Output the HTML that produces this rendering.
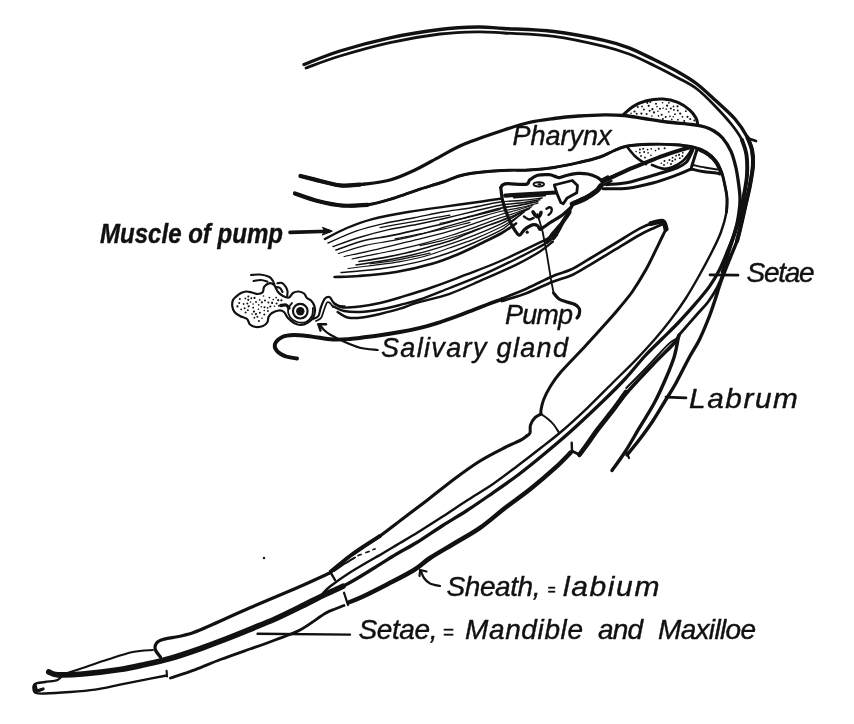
<!DOCTYPE html>
<html><head><meta charset="utf-8"><title>Mouthparts diagram</title>
<style>
html,body{margin:0;padding:0;background:#fff;}
body{width:854px;height:724px;overflow:hidden;}
svg{display:block;}
text{font-family:"Liberation Sans",sans-serif;font-style:italic;fill:#111;stroke:#111;stroke-width:0.4px;}
svg{will-change:transform;}
</style></head><body>
<svg width="854" height="724" viewBox="0 0 854 724">
<rect width="854" height="724" fill="#fff"/>
<g stroke="#111" stroke-linecap="round" stroke-linejoin="round" fill="none">
<path d="M304 64.5C310 62.2 325.7 55.5 340 51C354.3 46.5 373.3 41.4 390 37.8C406.7 34.2 425.3 31.3 440 29.5C454.7 27.7 467.3 27.2 478 27C488.7 26.8 491.3 27.8 504 28.5C516.7 29.2 537.3 29.5 554 31.5C570.7 33.5 591.5 37.6 604 40.3C616.5 43 620.7 44.6 629 47.8C637.3 51 645.7 55.5 654 59.6C662.3 63.7 671.8 68.4 679 72.5C686.2 76.6 691 79.4 697 84C703 88.6 708.7 94.2 715 100C721.3 105.8 729.6 112.8 735 119C740.4 125.2 744.7 132.3 747.5 137.5C750.3 142.7 751.1 145.4 752 150C752.9 154.6 753.3 159.2 753 165C752.7 170.8 751.2 178.3 750 185C748.8 191.7 747 198.3 745.5 205C744 211.7 742.4 219 741 225C739.6 231 738.8 235.7 737 241C735.2 246.3 733.1 250.5 730.5 257C727.9 263.5 724.1 272.8 721.5 280C718.9 287.2 717 294 715 300C713 306 712.1 309.4 709.5 316C706.9 322.6 702.8 332.7 699.5 339.5C696.2 346.3 693.4 349.8 689.5 357C685.6 364.2 679.9 375.9 676 383C672.1 390.1 669.9 393.2 666 399.5C662.1 405.8 657.2 414.3 652.8 421C648.4 427.7 643.8 433.9 639.5 439.6C635.2 445.3 629.1 452.4 627 455" stroke-width="3.4" fill="none"/>
<path d="M747.5 137.5C748.2 139.6 751.1 145.4 752 150C752.9 154.6 753.3 159.2 753 165C752.7 170.8 751.2 178.3 750 185C748.8 191.7 747 198.3 745.5 205C744 211.7 742.4 219 741 225C739.6 231 737.7 238.3 737 241" stroke-width="4.1" fill="none"/>
<path d="M306 68C311.7 66 326 60.2 340 56C354 51.8 373.3 46.3 390 42.6C406.7 38.9 425.3 35.8 440 34C454.7 32.2 467.3 32 478 31.8C488.7 31.6 491.3 32.2 504 33C516.7 33.8 537.3 34.1 554 36.3C570.7 38.5 591.5 43.3 604 46.3C616.5 49.2 620.7 50.8 629 54C637.3 57.2 645.7 61.4 654 65.5C662.3 69.6 671.8 74.5 679 78.4C686.2 82.3 691 84.4 697 89C703 93.6 709.2 100 715 106C720.8 112 727.5 119.3 732 125C736.5 130.7 739.6 135 742 140C744.4 145 745.7 149.2 746.5 155C747.3 160.8 747.4 168.3 747 175C746.6 181.7 745.2 188.3 744 195C742.8 201.7 741.7 208.3 740 215C738.3 221.7 735.8 229.2 734 235C732.2 240.8 730.8 243.8 729 250C727.2 256.2 725.4 265.8 723.5 272C721.6 278.2 720.1 282 717.5 287C714.9 292 711.5 297.3 708 302C704.5 306.7 701.3 309.5 696.5 315C691.7 320.5 681.9 331.7 679 335" stroke-width="2.8" fill="none"/>
<path d="M742 140C742.8 142.5 745.7 149.2 746.5 155C747.3 160.8 747.4 168.3 747 175C746.6 181.7 745.2 188.3 744 195C742.8 201.7 741.7 208.3 740 215C738.3 221.7 735.8 229.2 734 235C732.2 240.8 730.9 243.8 729 250C727.1 256.2 723.8 268.3 722.7 272" stroke-width="3.9" fill="none"/>
<path d="M747 138L756 141" stroke-width="2.7" fill="none"/>
<path d="M300.5 176C302.9 176.6 308.4 178 315 179.6C321.6 181.2 331.7 184.7 340 185.4C348.3 186.1 356.7 184.9 365 184C373.3 183.1 381.7 182.3 390 180C398.3 177.7 406.7 173.9 415 170C423.3 166.1 431.7 161 440 156.6C448.3 152.2 454.3 148.2 465 143.8C475.7 139.4 493.3 133.6 504 130C514.7 126.5 520.7 124.4 529 122.5C537.3 120.6 545.7 119.6 554 118.5C562.3 117.4 570.7 116.6 579 116C587.3 115.4 596.5 114.9 604 114.8C611.5 114.7 617.3 114.9 624 115.5C630.7 116.1 636.8 117.4 644 118.5C651.2 119.6 659 121 667 122C675 123 685.7 123.7 692 124.5C698.3 125.3 701.3 125.9 705 127C708.7 128.1 711.1 129.2 714 131C716.9 132.8 719.8 134.6 722.6 138C725.4 141.4 728.8 146.3 731 151.3C733.2 156.3 734.8 162.7 736 168C737.2 173.3 737.8 178 738.5 183C739.2 188 739.9 193.2 740 198C740.1 202.8 739.8 206.3 739 212C738.2 217.7 736.8 225.7 735 232C733.2 238.3 730.6 243.7 728 250C725.4 256.3 722.5 263.9 719.4 270C716.3 276.1 713.6 280.6 709.5 286.4C705.4 292.2 699.9 298.6 694.6 304.7C689.4 310.8 683.5 317.2 678 323C672.5 328.8 666.9 334 661.4 339.5C655.9 345 651 349.4 644.9 356C638.8 362.6 632.5 371 625 379C617.5 387 609.2 395.2 600 404C590.8 412.8 579.5 423.5 570 432C560.5 440.5 551.7 447.8 543 455C534.3 462.2 526.3 468.7 518 475C509.7 481.3 501.4 487 493 492.8C484.6 498.6 476.1 504.6 467.7 510C459.3 515.5 451 520.2 442.7 525.5C434.4 530.8 424.7 537.6 417.6 542C410.5 546.4 404.2 549.6 400 552C395.8 554.4 396.7 553.9 392.5 556.5C388.3 559.1 382.1 563.2 375 567.5C367.9 571.8 358.3 578 350 582.5C341.7 587 329.2 592.5 325 594.5" stroke-width="3.3" fill="none"/>
<path d="M300.5 176C302.9 176.6 308.4 178 315 179.6C321.6 181.2 332.5 184.6 340 185.4C347.5 186.2 356.7 184.7 360 184.6" stroke-width="4.2" fill="none"/>
<path d="M343 586.2C341.7 586.8 338 588.6 335 590C332 591.4 330.8 591.7 325 594.5C319.2 597.3 308.3 602.9 300 607C291.7 611.1 283.3 615.3 275 619C266.7 622.7 258.3 625.9 250 629.3C241.7 632.7 233.3 636.1 225 639.3C216.7 642.5 209.2 645.5 200 648.7C190.8 651.9 179.2 655.9 170 658.5C160.8 661.1 153.3 662.7 145 664.5C136.7 666.3 130.4 667.9 120 669.5C109.6 671.1 93 673.1 82.6 674C72.2 674.9 63.2 675.1 57.6 674.8C52 674.5 50.3 672.5 48.8 672" stroke-width="5.7" fill="none"/>
<path d="M295 193.5C298.8 194.8 309.7 199 317.6 201C325.6 203 334.4 205 342.7 205.6C351 206.2 359.3 206 367.7 204.8C376.1 203.6 384.4 201 392.8 198.5C401.2 196 409.4 192.6 417.8 189.8C426.2 187.1 435.1 184.6 443 182C450.9 179.4 455.2 176.4 465 174.5C474.8 172.6 491.3 171.2 502 170.5C512.7 169.8 520.3 170.5 529 170C537.7 169.5 545.7 168.8 554 167.5C562.3 166.2 571.3 164.2 579 162.5C586.7 160.8 594.3 158.9 600 157C605.7 155.1 608.9 152.8 613.3 151C617.7 149.2 620.4 147.4 626.5 146.3C632.6 145.2 641.7 144.6 649.7 144.3C657.7 144 667.4 144.2 674.6 144.7C681.8 145.1 687.6 145.8 692.8 147C698 148.2 702.1 149.7 706 152C709.9 154.3 713.4 157.5 716 161C718.6 164.5 720.3 168.6 721.8 172.8C723.3 177 724.1 181.8 725 186C725.9 190.2 726.8 193.7 727 198C727.2 202.3 727.5 206.3 726.5 212C725.5 217.7 723.3 225.7 721 232C718.7 238.3 716.4 242.8 712.8 250C709.2 257.2 704 267 699.5 275C695 283 690.8 290.5 686 298C681.2 305.5 675.7 313.2 670.5 320C665.3 326.8 660.8 332.4 655 339C649.2 345.6 643 352.5 635.9 359.8C628.8 367.1 620.6 375 612.5 383C604.4 391 595.9 399.8 587.5 407.8C579.1 415.8 569.8 424.3 562 431C554.2 437.7 548.3 442.1 541 447.8C533.7 453.6 526 459.5 518 465.5C510 471.5 501.4 478.2 493 484C484.6 489.8 476.1 494.6 467.7 500C459.3 505.4 451 511.2 442.7 516.6C434.4 522 424.7 528.1 417.6 532.5C410.5 536.9 404.2 540.5 400 543C395.8 545.5 395.8 545.5 392.5 547.5C389.2 549.5 382.9 553.3 380 555C377.1 556.7 380.4 554.6 375.4 557.5C370.4 560.4 357.6 567.7 350 572.5C342.4 577.3 334.5 583 330 586.5C325.5 590 324 592.3 322.8 593.5" stroke-width="2.4" fill="none"/>
<path d="M295 193.5C298.8 194.8 309.7 199 317.6 201C325.6 203 334.4 205 342.7 205.6C351 206.2 359.3 206 367.7 204.8C376.1 203.6 384.4 201 392.8 198.5C401.2 196 409.4 192.6 417.8 189.8C426.2 187.1 435.1 184.6 443 182C450.9 179.4 455.2 176.4 465 174.5C474.8 172.6 491.3 171.2 502 170.5C512.7 169.8 520.3 170.5 529 170C537.7 169.5 545.7 168.8 554 167.5C562.3 166.2 571.3 164.2 579 162.5C586.7 160.8 594.3 158.9 600 157C605.7 155.1 608.9 152.8 613.3 151C617.7 149.2 620.4 147.4 626.5 146.3C632.6 145.2 641.7 144.6 649.7 144.3C657.7 144 667.4 144.2 674.6 144.7C681.8 145.1 687.6 145.8 692.8 147C698 148.2 702.1 149.7 706 152C709.9 154.3 713.4 157.5 716 161C718.6 164.5 720.3 168.6 721.8 172.8C723.3 177 724.1 181.8 725 186C725.9 190.2 726.8 193.7 727 198C727.2 202.3 726.6 209.7 726.5 212" stroke-width="2.9" fill="none"/>
<path d="M295 193.5C298.8 194.8 309.7 199 317.6 201C325.6 203 334.4 205 342.7 205.6C351 206.2 363.5 204.9 367.7 204.8" stroke-width="4.2" fill="none"/>
<path d="M623.2 114.9C624.8 113.5 629.1 108.9 633 106.6C636.9 104.2 641.4 102.1 646.4 100.8C651.4 99.5 657.8 98.7 663 99C668.2 99.3 673.5 100.6 677.9 102.4C682.3 104.2 686.5 107.3 689.5 109.9C692.5 112.5 694.6 115.6 696 118C697.4 120.4 697.4 123.4 697.7 124.5" stroke-width="3" fill="none"/>
<circle cx="647.3" cy="102.8" r="1.1" fill="#111" stroke="none"/>
<circle cx="663.1" cy="108.3" r="0.8" fill="#111" stroke="none"/>
<circle cx="666.2" cy="109.1" r="0.8" fill="#111" stroke="none"/>
<circle cx="636.7" cy="113.8" r="1" fill="#111" stroke="none"/>
<circle cx="670.8" cy="108.5" r="1.1" fill="#111" stroke="none"/>
<circle cx="673.9" cy="109.9" r="0.9" fill="#111" stroke="none"/>
<circle cx="646.6" cy="113.9" r="1" fill="#111" stroke="none"/>
<circle cx="657" cy="106.6" r="0.8" fill="#111" stroke="none"/>
<circle cx="682.4" cy="116.8" r="0.9" fill="#111" stroke="none"/>
<circle cx="641.4" cy="113.6" r="1.1" fill="#111" stroke="none"/>
<circle cx="677.5" cy="106.3" r="1.1" fill="#111" stroke="none"/>
<circle cx="634.5" cy="111.5" r="1.1" fill="#111" stroke="none"/>
<circle cx="680.2" cy="113.6" r="1.1" fill="#111" stroke="none"/>
<circle cx="675" cy="114.2" r="0.9" fill="#111" stroke="none"/>
<circle cx="658.5" cy="115.9" r="0.8" fill="#111" stroke="none"/>
<circle cx="651.9" cy="116.1" r="0.8" fill="#111" stroke="none"/>
<circle cx="684.2" cy="121" r="1" fill="#111" stroke="none"/>
<circle cx="643.9" cy="109.6" r="1" fill="#111" stroke="none"/>
<circle cx="667.1" cy="105.7" r="1.1" fill="#111" stroke="none"/>
<circle cx="661.6" cy="114.7" r="1" fill="#111" stroke="none"/>
<circle cx="690.2" cy="118.9" r="1" fill="#111" stroke="none"/>
<circle cx="652.4" cy="109.2" r="1.1" fill="#111" stroke="none"/>
<circle cx="668.9" cy="102.8" r="0.9" fill="#111" stroke="none"/>
<circle cx="650.3" cy="102.1" r="1" fill="#111" stroke="none"/>
<circle cx="657.9" cy="111.3" r="0.8" fill="#111" stroke="none"/>
<circle cx="648.7" cy="105.8" r="1.1" fill="#111" stroke="none"/>
<circle cx="662.6" cy="102.7" r="0.8" fill="#111" stroke="none"/>
<circle cx="687.5" cy="116.8" r="1.1" fill="#111" stroke="none"/>
<circle cx="662.9" cy="118.9" r="1" fill="#111" stroke="none"/>
<circle cx="685.8" cy="111.2" r="0.9" fill="#111" stroke="none"/>
<circle cx="671.8" cy="119.4" r="0.8" fill="#111" stroke="none"/>
<circle cx="642" cy="106.5" r="0.9" fill="#111" stroke="none"/>
<circle cx="649.6" cy="110.7" r="1" fill="#111" stroke="none"/>
<circle cx="656" cy="103.7" r="1" fill="#111" stroke="none"/>
<circle cx="631.1" cy="113.3" r="0.8" fill="#111" stroke="none"/>
<circle cx="668.8" cy="111.9" r="0.8" fill="#111" stroke="none"/>
<circle cx="637.8" cy="107.1" r="1" fill="#111" stroke="none"/>
<circle cx="665.7" cy="116.9" r="1" fill="#111" stroke="none"/>
<circle cx="677.9" cy="119.7" r="0.9" fill="#111" stroke="none"/>
<circle cx="669.9" cy="116.4" r="0.8" fill="#111" stroke="none"/>
<circle cx="660" cy="108.8" r="1" fill="#111" stroke="none"/>
<circle cx="673.3" cy="116.7" r="0.8" fill="#111" stroke="none"/>
<circle cx="673.5" cy="106.4" r="0.9" fill="#111" stroke="none"/>
<circle cx="677.8" cy="110.5" r="0.9" fill="#111" stroke="none"/>
<circle cx="654" cy="112.4" r="1.1" fill="#111" stroke="none"/>
<circle cx="694.3" cy="120.6" r="1" fill="#111" stroke="none"/>
<path d="M628 148C629.1 149.3 632.6 153.8 634.8 156C637 158.2 639.5 159.7 641.4 161C643.3 162.3 645.2 163.5 646 164" stroke-width="2.7" fill="none"/>
<path d="M652 165C653.8 165.6 659.5 168.4 663 168.7C666.5 169 669.6 168.3 672.9 167C676.2 165.7 680 163.3 682.8 161C685.6 158.7 688 155.2 689.5 153C691 150.8 691.6 148.8 692 148" stroke-width="2.7" fill="none"/>
<circle cx="639.9" cy="149.5" r="1" fill="#111" stroke="none"/>
<circle cx="650.9" cy="155.4" r="0.8" fill="#111" stroke="none"/>
<circle cx="647.6" cy="149.6" r="0.9" fill="#111" stroke="none"/>
<circle cx="644.2" cy="151.9" r="1" fill="#111" stroke="none"/>
<circle cx="658.7" cy="148.8" r="1" fill="#111" stroke="none"/>
<circle cx="651.2" cy="148.9" r="0.8" fill="#111" stroke="none"/>
<circle cx="636.1" cy="151.5" r="0.8" fill="#111" stroke="none"/>
<circle cx="645" cy="157.5" r="0.9" fill="#111" stroke="none"/>
<circle cx="641" cy="156" r="0.9" fill="#111" stroke="none"/>
<circle cx="639.8" cy="152.7" r="0.9" fill="#111" stroke="none"/>
<circle cx="648.1" cy="152.9" r="0.8" fill="#111" stroke="none"/>
<circle cx="655.5" cy="150.6" r="0.8" fill="#111" stroke="none"/>
<circle cx="643.1" cy="148.8" r="1" fill="#111" stroke="none"/>
<circle cx="664.6" cy="148.2" r="1" fill="#111" stroke="none"/>
<circle cx="682.8" cy="152.8" r="0.9" fill="#111" stroke="none"/>
<circle cx="675.2" cy="159.5" r="0.9" fill="#111" stroke="none"/>
<circle cx="676.1" cy="155.7" r="0.9" fill="#111" stroke="none"/>
<circle cx="669.4" cy="160" r="1" fill="#111" stroke="none"/>
<circle cx="661.4" cy="163.2" r="0.8" fill="#111" stroke="none"/>
<circle cx="667.5" cy="162.9" r="0.7" fill="#111" stroke="none"/>
<circle cx="664" cy="165" r="0.9" fill="#111" stroke="none"/>
<circle cx="679.8" cy="158.2" r="0.9" fill="#111" stroke="none"/>
<circle cx="664.5" cy="161" r="1" fill="#111" stroke="none"/>
<circle cx="671" cy="164" r="1" fill="#111" stroke="none"/>
<circle cx="672.4" cy="160.9" r="1" fill="#111" stroke="none"/>
<circle cx="679" cy="154.8" r="1.1" fill="#111" stroke="none"/>
<circle cx="672.6" cy="157.7" r="0.9" fill="#111" stroke="none"/>
<circle cx="682.4" cy="156" r="0.9" fill="#111" stroke="none"/>
<path d="M603 182C604.1 181.4 605.1 180.6 609.7 178.4C614.3 176.2 624 171.5 630.5 168.7C637 165.8 643.2 163.5 648.7 161.3C654.2 159.1 658.2 157.5 663.6 155.6C669 153.7 676.8 151.2 681 149.9C685.2 148.6 687.7 147.9 689 147.5" stroke-width="4.1" fill="none"/>
<path d="M601 180L608 176.4" stroke-width="2.4" fill="none"/>
<path d="M602.6 185.5L611.4 181" stroke-width="2.4" fill="none"/>
<path d="M603 188.8C607.2 188.7 619.7 189.2 628 188.2C636.3 187.2 644.5 185.2 652.8 183C661.1 180.8 671.3 177 677.7 174.7C684.1 172.4 688.8 169.9 691 169" stroke-width="3" fill="none"/>
<path d="M606.4 184.7C610 184.3 620.3 184 628 182.5C635.7 181 644.5 178 652.8 175.5C661.1 173 672.2 169.7 677.7 167.5C683.2 165.3 684 164.4 686 162.5C688 160.6 688.8 158.2 690 156C691.2 153.8 692.5 150.6 693 149.5" stroke-width="3" fill="none"/>
<path d="M691 169C693 169.4 698.5 170.8 702.7 171.5C706.9 172.2 713.1 172.6 716 173C718.9 173.4 719.3 173.8 720 174" stroke-width="3" fill="none"/>
<path d="M693 165C695 165.4 701 166.8 705 167.5C709 168.2 715 169.2 717 169.5" stroke-width="2" fill="none"/>
<path d="M697 149.5L691.5 167" stroke-width="3" fill="none"/>
<path d="M697.5 149C699.2 149.9 704.6 152.3 707.7 154.6C710.8 156.9 713.9 159.9 716 162.9C718.1 165.9 719.8 170.9 720.5 172.5" stroke-width="3" fill="none"/>
<path d="M500.8 187.6C501.1 187.2 501.5 185.7 502.7 185C503.9 184.3 504 183.8 507.9 183.7C511.8 183.6 522.4 185 526 184.3C529.6 183.7 527.9 181.3 529.8 179.8C531.7 178.3 534.3 176.2 537.5 175.3C540.7 174.5 546 174.5 549 174.7C552 174.9 553.9 176.1 555.6 176.6C557.3 177.1 557.5 177.9 559.4 177.7C561.3 177.5 564.2 176 567.2 175.3C570.2 174.6 574.1 173.6 577.5 173.4C580.9 173.2 584.6 173.4 587.8 174C591 174.6 594.4 175.9 596.8 177.2C599.2 178.5 601.4 180.2 602 181.8C602.6 183.4 602.2 185 600.7 186.9C599.2 188.8 596 191.5 593 193.4C590 195.3 585.6 197 582.6 198.5C579.6 200 576.8 200.9 574.9 202.4C573 203.9 572.3 205.2 571 207.5C569.7 209.8 569.1 213.5 567.2 216.5C565.3 219.5 562 222.6 559.4 225.6C556.8 228.6 553.9 231.8 551.7 234.6C549.6 237.4 547.4 241 546.5 242.3" stroke-width="3.2" fill="none"/>
<path d="M500.8 187.6C501.1 189.8 501.5 196.2 502.7 201C503.9 205.8 506 211.8 507.9 216.5C509.8 221.2 512.4 226.3 514.3 229.4C516.2 232.5 517.8 235.2 519.5 235.2C521.2 235.2 522.5 231.1 524.6 229.4C526.8 227.7 530.2 225.5 532.4 224.9C534.5 224.3 536.2 224.8 537.5 225.6C538.8 226.3 538.9 229.2 540 229.4C541.1 229.6 542 228.2 544 226.9C546 225.6 548.7 223.6 551.7 221.7C554.7 219.8 558.8 217.7 562 215.3C565.2 212.9 569.5 208.8 571 207.5" stroke-width="3.2" fill="none"/>
<path d="M600.5 186C599.9 186.8 599.3 188.7 596.8 190.8C594.2 192.9 589.3 196.3 585.2 198.5C581.1 200.7 574.4 203.1 572.3 204" stroke-width="5.1" fill="none"/>
<path d="M569.5 212C568.4 213.7 564.7 218.8 562.8 222C560.9 225.2 559.4 228.3 557.9 231C556.4 233.7 554.2 236.8 553.5 238" stroke-width="4.2" fill="none"/>
<path d="M554.3 185L572.3 180.5L577.5 185.6L576.8 192.7L567.2 197.9L563.3 203.7L560.7 202.4L556.9 193.4L554.3 185" stroke-width="2.8" fill="none"/>
<ellipse cx="538.8" cy="184.3" rx="5.2" ry="2.1" stroke-width="2" fill="none"/>
<ellipse cx="539.5" cy="184.3" rx="2" ry="1.1" fill="#111" stroke="none"/>
<path d="M505.3 195.6L530 194L555.6 192.5" stroke-width="4.2" fill="none"/>
<path d="M514 197.3L545 195.2" stroke-width="2.4" fill="none"/>
<path d="M546.5 208.8C547 208.5 548.6 207.2 549.5 207.2C550.4 207.2 551.5 208.1 551.7 209C552 209.9 551.5 211.5 551 212.5C550.5 213.5 548.9 214.6 548.5 215" stroke-width="2.4" fill="none"/>
<path d="M533 212C533.5 212.7 534.9 215.3 536 216C537.1 216.7 538.7 216.6 539.5 216C540.3 215.4 540.8 213.1 541 212.5" stroke-width="3.6" fill="none"/>
<path d="M524 216.5C524.8 217 527.4 219.2 529 219.5C530.6 219.8 532.8 218.2 533.5 218" stroke-width="2.4" fill="none"/>
<circle cx="527.2" cy="232.2" r="1.6" fill="#111" stroke="none"/>
<path d="M601 180C602.3 179.6 605.8 178.7 609 177.5C612.2 176.3 618.2 173.8 620 173" stroke-width="2.4" fill="none"/>
<path d="M537.5 214L542.7 232L547 255L551 279.6L553.6 293" stroke-width="1.8" fill="none"/>
<path d="M553.6 293C554.5 294 556.8 297.5 559 299C561.2 300.5 564.3 301.1 567 302C569.7 302.9 572.9 303.3 575 304.5C577.1 305.7 578.8 307.2 579.5 309C580.2 310.8 579.4 313.5 579 315C578.6 316.5 577.3 317.5 577 318" stroke-width="3.2" fill="none"/>
<path d="M552.9 241.5C550.8 243.2 546.1 247.6 540 251.5C533.9 255.4 525.5 260.1 516 264.8C506.5 269.5 493.9 274.9 482.8 279.7C471.8 284.5 460.7 289.9 449.7 293.8C438.7 297.7 424.9 300.4 416.6 302.9C408.3 305.4 406.1 306.8 400 308.7C393.9 310.6 386.3 312.5 380 314C373.7 315.5 367.4 316.9 362 317.5C356.6 318.1 351.8 318.4 347.7 317.5C343.6 316.6 339.3 312.9 337.6 312" stroke-width="2.4" fill="none"/>
<path d="M557 235C555.5 236.2 550.8 240.1 548 242C545.2 243.9 545.3 243.8 540 246.6C534.7 249.4 525.5 254.3 516 259C506.5 263.7 493.9 269.9 482.8 274.7C471.8 279.5 460.2 283.9 449.7 288C439.2 292.1 428.3 296.7 420 299.5C411.7 302.3 406.7 303.3 400 305C393.3 306.7 386.7 308.3 380 309.5C373.3 310.7 366 311.8 360 312C354 312.2 348.4 311.9 344 311C339.6 310.1 335.2 307.2 333.5 306.5" stroke-width="2.4" fill="none"/>
<path d="M560 228C558.5 229.4 554.3 234.1 551 236.5C547.7 238.9 548.6 238.2 540 242.4C531.4 246.6 511.7 256.1 499.4 261.5C487.1 266.9 477.1 270.4 466 274.7C454.9 278.9 444 283.2 433 287C422 290.8 408.8 294.8 400 297.5C391.2 300.2 386.7 301.5 380 303C373.3 304.5 366.2 305.8 360 306.5C353.8 307.2 347 308 342.7 307.5C338.4 307 335.4 304.2 334 303.5" stroke-width="2.4" fill="none"/>
<path d="M324.8 239C328.5 237.2 339.1 231.3 346.9 228C354.7 224.7 361.3 222 371.5 219.3C381.7 216.6 395.8 214.1 408 212C420.2 209.9 432.7 208.3 445 206.6C457.3 204.8 472.5 202.8 482 201.5C491.5 200.2 498.5 199 501.8 198.5" stroke-width="2.4" fill="none"/>
<path d="M334.6 277C338.7 276.8 348.8 276.8 359 276C369.2 275.2 383.7 274.1 396 272C408.3 269.9 422.8 266.4 433 263.5C443.2 260.6 449.3 257.9 457.5 254.5C465.7 251.1 474.6 246.6 482 243C489.4 239.4 496.1 236.2 501.8 233C507.5 229.8 513.6 225.1 516 223.5" stroke-width="2.7" fill="none"/>
<path d="M328 243C332.8 241 347.1 234.2 356.7 230.9C366.2 227.6 375.8 225.4 385.3 223.2C394.9 221.1 404.4 219.7 414 217.8C423.6 216 433.1 213.7 442.7 212C452.2 210.3 461.8 209.4 471.3 207.7C480.9 206 491.7 203.2 500 202C508.3 200.8 514.1 201.2 521.1 200.5C528.1 199.8 538.7 198.4 542.2 198" stroke-width="1.4" fill="none"/>
<path d="M333 246.5C337.6 244.9 351.6 239.8 360.8 237C370.1 234.2 379.4 231.7 388.7 229.6C397.9 227.5 407.2 226.3 416.5 224.5C425.8 222.6 435.1 220.6 444.3 218.5C453.6 216.3 462.9 213.9 472.2 211.7C481.4 209.4 492 206.6 500 205.2C508 203.7 513.3 203.9 520 203C526.6 202.1 536.6 200.3 540 199.8" stroke-width="1.4" fill="none"/>
<path d="M336 250C340.6 248.5 354.2 243.1 363.3 240.7C372.4 238.4 381.6 237.6 390.7 235.7C399.8 233.9 408.9 231.7 418 229.6C427.1 227.5 436.2 225.5 445.3 223.2C454.4 220.9 463.6 218.1 472.7 215.7C481.8 213.2 492.3 210.1 500 208.4C507.7 206.6 512.6 206.6 518.9 205.4C525.2 204.3 534.6 202.1 537.8 201.5" stroke-width="1.7" fill="none"/>
<path d="M338.5 253.5C343 252.2 356.4 247.6 365.4 245.4C374.4 243.3 383.4 242.4 392.3 240.7C401.3 238.9 410.3 237 419.2 234.7C428.2 232.4 437.2 229.3 446.2 226.7C455.1 224.1 464.1 221.6 473.1 219.1C482.1 216.6 492.3 213.4 500 211.5C507.7 209.7 512.7 209.3 519 207.9C525.3 206.5 534.8 204 538 203.2" stroke-width="1.2" fill="none"/>
<path d="M344 256.5C348.3 255.6 361.3 252.9 370 250.9C378.7 249 387.3 246.7 396 244.6C404.7 242.5 413.3 240.6 422 238.4C430.7 236.3 439.3 234.2 448 231.7C456.7 229.2 465.3 226.5 474 223.6C482.7 220.8 492.9 217 500 214.7C507.1 212.5 511 212 516.6 210.3C522.1 208.7 530.4 205.8 533.1 204.9" stroke-width="1.2" fill="none"/>
<path d="M352 259C356.1 258.1 368.4 255.4 376.7 253.8C384.9 252.1 393.1 250.7 401.3 248.9C409.6 247.1 417.8 245.1 426 242.9C434.2 240.6 442.4 238.1 450.7 235.5C458.9 232.9 467.1 230 475.3 227.1C483.6 224.2 493.2 220.3 500 217.9C506.8 215.6 510.6 214.7 515.9 212.8C521.2 210.9 529.1 207.7 531.8 206.7" stroke-width="1.2" fill="none"/>
<path d="M359 261.5C362.9 260.9 374.7 259.2 382.5 257.8C390.3 256.4 398.2 254.8 406 253C413.8 251.1 421.7 248.9 429.5 246.7C437.3 244.5 445.2 242.5 453 239.7C460.8 236.9 468.7 233 476.5 229.9C484.3 226.8 493.6 223.6 500 221.1C506.4 218.7 509.8 217.4 514.8 215.3C519.7 213.1 527.1 209.5 529.5 208.4" stroke-width="1.7" fill="none"/>
<path d="M356 265C360 264.4 372 262.7 380 261.3C388 259.9 396 258.5 404 256.8C412 255 420 253.2 428 250.9C436 248.7 444 246.1 452 243.4C460 240.7 468 237.7 476 234.6C484 231.4 493.9 227.1 500 224.3C506.1 221.5 508.3 220.1 512.5 217.7C516.6 215.4 522.8 211.4 524.9 210.1" stroke-width="1.4" fill="none"/>
<path d="M348 268.5C352.2 268 364.9 266.4 373.3 265.3C381.8 264.2 390.2 263.4 398.7 261.9C407.1 260.4 415.6 258.8 424 256.5C432.4 254.2 440.9 251 449.3 248C457.8 245.1 466.2 242.3 474.7 238.9C483.1 235.5 493.7 230.6 500 227.5C506.3 224.4 508.2 222.8 512.3 220.2C516.4 217.6 522.6 213.2 524.7 211.8" stroke-width="1.2" fill="none"/>
<path d="M341 272.5C345.4 272.1 358.7 271.3 367.5 270.3C376.3 269.4 385.2 268.2 394 266.7C402.8 265.2 411.7 263.6 420.5 261.4C429.3 259.1 438.2 256.5 447 253.5C455.8 250.4 464.7 246.8 473.5 243C482.3 239.2 493.8 234.1 500 230.7C506.2 227.3 507.2 225.5 510.9 222.6C514.5 219.8 519.9 215.1 521.7 213.6" stroke-width="1.4" fill="none"/>
<path d="M380 227.7C383.9 227 395.6 224.7 403.3 223.3C411.1 221.9 418.9 220.6 426.7 219.3C434.4 217.9 446.1 215.8 450 215.2" stroke-width="1.2" fill="none"/>
<path d="M395 238.8C399.2 237.9 411.7 235.6 420 233.9C428.3 232.2 436.7 230.6 445 228.6C453.3 226.7 465.8 223.3 470 222.3" stroke-width="1.2" fill="none"/>
<path d="M420 245.7C423.3 244.9 433.3 242.8 440 241.1C446.7 239.4 453.3 237.4 460 235.3C466.7 233.1 476.7 229.5 480 228.3" stroke-width="1.2" fill="none"/>
<path d="M370 263.8C373.3 263.4 383.3 262.3 390 261.2C396.7 260.2 403.3 258.7 410 257.4C416.7 256 426.7 253.8 430 253.1" stroke-width="1.2" fill="none"/>
<path d="M440 223.4C443.3 222.7 453.3 220.7 460 219.2C466.7 217.7 473.3 216.1 480 214.4C486.7 212.8 496.7 210.2 500 209.3" stroke-width="1.2" fill="none"/>
<path d="M290 232.4L329 231.2" stroke-width="3.6" fill="none"/>
<path d="M332 231 L322.5 227.3 L324.5 231 L322.5 234.8 Z" fill="#111" stroke-width="1"/>
<path d="M297 358.5C295.1 358.1 288.9 357.6 285.6 356.3C282.3 355.1 278.8 353.1 277 351C275.2 348.9 274.1 346.3 275 344C275.9 341.7 279.2 338.5 282.3 337C285.4 335.5 288.9 335.1 293.8 335C298.7 334.9 305.3 335.9 311.8 336.6C318.3 337.4 326.6 339.1 333 339.5C339.4 339.9 344.4 339.4 350 339C355.6 338.6 361.3 337.6 366.3 337C371.3 336.4 374.4 336 380 335.2C385.6 334.4 393.7 333.1 400 332C406.3 330.9 412.5 329.6 418 328.3C423.5 327 426.8 326.3 433 324.4C439.2 322.5 449.5 318.9 455 317C460.5 315.1 459.5 315.3 466 312.8C472.5 310.3 488 304.2 494 302C500 299.8 500.7 299.8 502 299.3" stroke-width="3.9" fill="none"/>
<path d="M502 298.6C506.2 296.9 518.7 292.2 527 288.5C535.3 284.8 544.7 279.7 552 276.5C559.3 273.3 564.7 272.5 571 269.5C577.3 266.5 582.7 262.8 590 258.5C597.3 254.2 606.7 248.5 615 243.5C623.3 238.5 633.3 231.9 640 228.4C646.7 224.9 651.2 223.5 655 222.3C658.8 221.2 661.4 221.6 662.7 221.5" stroke-width="2.7" fill="none"/>
<path d="M502 301C506.2 299.7 518.7 296.2 527 293C535.3 289.8 544.4 285.1 552 282C559.6 278.9 566.5 277.6 572.8 274.7C579.1 271.8 583 269 590 264.8C597 260.6 606.7 254.7 615 249.7C623.3 244.7 633.3 238.4 640 234.7C646.7 231 651.2 229.3 655 227.5C658.8 225.7 661.7 224.6 663 224" stroke-width="2.7" fill="none"/>
<path d="M651 223.5C653 223.1 660.2 220.4 662.7 221.3C665.2 222.2 665.5 227.7 666 229" stroke-width="5.1" fill="none"/>
<path d="M666 229C665.4 230.2 664.3 232.6 662.6 236C660.9 239.4 658.8 244.1 656 249.7C653.2 255.3 649.9 262.7 646 269.6C642.1 276.5 637.2 284.6 632.8 291C628.4 297.4 623.6 302.7 619.5 307.7C615.4 312.7 613.8 314.5 608 321C602.2 327.5 592.9 337.8 584.9 346.5C576.9 355.2 565.8 366.2 560 373C554.2 379.8 552.8 382.5 550 387C547.2 391.5 545 396.2 543.5 400C542 403.8 541.4 407.7 541 410C540.6 412.3 541 413.3 541 414" stroke-width="3" fill="none"/>
<path d="M541 414C540 414.6 536.8 415.8 535 417.6C533.2 419.4 531.3 422.4 530.5 425C529.7 427.6 530.6 431.2 530 433C529.4 434.8 527.2 435.5 526.6 436" stroke-width="3" fill="none"/>
<path d="M541 414C542.2 414.8 545.8 417.2 548 419C550.2 420.8 552.2 422.7 554 425C555.8 427.3 558.2 431.3 559 432.6" stroke-width="2" fill="none"/>
<path d="M526.6 436C525.5 436.8 523.6 438.6 520 440.5C516.4 442.4 511.7 444.1 505 447.5C498.3 450.9 488.3 455.8 480 461C471.7 466.2 463.3 472.3 455 478.5C446.7 484.7 438.3 491.6 430 498C421.7 504.4 413.3 510.7 405 517C396.7 523.3 387 531 380 536C373 541 368 543.7 363 547C358 550.3 353.8 553.2 350 556C346.2 558.8 343.2 561.4 340 564C336.8 566.6 332.5 570.2 331 571.5" stroke-width="3.2" fill="none"/>
<path d="M380 536C377.2 537.8 368 543.7 363 547C358 550.3 353.8 553.2 350 556C346.2 558.8 343.2 561.4 340 564C336.8 566.6 332.5 570.2 331 571.5" stroke-width="3.9" fill="none"/>
<path d="M330 571.4L335 580" stroke-width="2.4" fill="none"/>
<path d="M334 571C335.8 569.8 341.5 565.8 345 563.5C348.5 561.2 353.3 558.5 355 557.5" stroke-width="2" fill="none"/>
<path d="M358 555.5L361 554.5" stroke-width="1.8" fill="none"/>
<path d="M366 552.5L369 551.5" stroke-width="1.8" fill="none"/>
<path d="M373 549.5L375 549" stroke-width="1.8" fill="none"/>
<path d="M330.3 572.7C325.2 575 313.4 580.6 300 586.5C286.6 592.4 266.7 600.5 250 607.8C233.3 615 211.2 625.4 200 630C188.8 634.6 189.2 633.9 183 635.5C176.8 637.1 167.3 638.2 162.9 639.5C158.5 640.8 157.9 641.3 156.6 643C155.3 644.7 154.7 647.2 155.3 649.5C155.9 651.8 159.6 655.8 160.4 657" stroke-width="3.2" fill="none"/>
<path d="M152.8 650C149.5 650.3 140.3 650.4 132.8 652C125.3 653.6 116.1 656.8 107.7 659.5C99.3 662.2 90.1 665.5 82.6 668C75.1 670.5 65.9 673.5 62.6 674.6" stroke-width="2.1" fill="none"/>
<path d="M62.6 674.6C61.8 675.5 60.5 678.8 57.6 680C54.7 681.2 48.8 681.3 45 682C41.2 682.7 36.9 682.8 35 684C33.1 685.2 33.3 687.5 33.5 689C33.7 690.5 34.1 692.2 36 693C37.9 693.8 39.3 693.7 45 693.5C50.7 693.3 61.7 692.6 70 692C78.3 691.4 86.7 690.8 95 689.6C103.3 688.4 111.6 686.3 120 684.6C128.4 682.9 137.7 681.1 145.3 679.6C152.9 678.1 162.1 676.4 165.4 675.8" stroke-width="2.4" fill="none"/>
<path d="M35 685C35.3 685.9 35.7 689.8 37 690.5C38.3 691.2 42 689.2 43 689" stroke-width="3.3" fill="none"/>
<path d="M166.6 670.8L167 676.5" stroke-width="2.1" fill="none"/>
<path d="M170.4 678C174.6 676.6 187.1 672.7 195.4 669.6C203.8 666.5 211.4 662.9 220.5 659.5C229.6 656.1 240.9 652.2 250 649C259.1 645.8 266.7 643.2 275 640C283.3 636.8 291.7 634.4 300 630C308.3 625.6 319.2 617 325 613.5C330.8 610 331.8 610.3 335 609C338.2 607.7 342.5 606.1 344 605.5" stroke-width="2.8" fill="none"/>
<path d="M344 592.7L348 605" stroke-width="2.2" fill="none"/>
<path d="M348.5 602.5C350.9 601.5 356.4 599.6 363 596.5C369.6 593.4 379.5 588.4 388 584C396.5 579.6 407 574.3 414 570C421 565.7 423.2 562.5 430 558C436.8 553.5 446.7 548 455 543C463.3 538 471.6 533.8 480 527.9C488.4 522 496.9 514.3 505.3 507.8C513.7 501.3 522 495.7 530.4 489C538.8 482.3 548.7 473.8 555.4 467.7C562.1 461.6 568 455.2 570.5 452.7" stroke-width="4.5" fill="none"/>
<path d="M571.7 442.7L572 451.5" stroke-width="2.4" fill="none"/>
<path d="M572 451L579.5 454.7" stroke-width="2.7" fill="none"/>
<path d="M579.5 454.7C581.2 452.4 586.4 445.3 589.5 441C592.6 436.7 593.8 434.5 598 429C602.2 423.5 609.4 414.4 614.7 407.8C620 401.2 623.2 396.8 629.6 389.6C636 382.4 645.3 372.5 652.8 364.7C660.2 356.9 669.9 347.9 674.3 343C678.7 338.1 678.2 336.8 679 335.5" stroke-width="3.6" fill="none"/>
<path d="M579.5 454.7C581.2 452.4 586.4 445.3 589.5 441C592.6 436.7 593.8 434.5 598 429C602.2 423.5 610 414 614.7 407.8C619.4 401.6 624.1 394.6 626 392" stroke-width="4.8" fill="none"/>
<path d="M626.3 388C629.6 384.7 639.1 375.2 646 368C652.9 360.8 662.7 349.7 667.7 344.9C672.7 340.1 674.6 340 676 339" stroke-width="2" fill="none"/>
<path d="M678.5 336.6C677.8 339.9 676.4 349.5 674.3 356.4C672.2 363.3 669.3 370.3 666 378C662.7 385.7 658.8 394.5 654.4 402.8C650 411.1 644.4 419.5 639.5 427.7C634.6 435.9 629.6 444.9 625 452C620.4 459.1 614.2 467.4 612 470.5" stroke-width="3.4" fill="none"/>
<path d="M626.5 452L629 458" stroke-width="2.2" fill="none"/>
<path d="M666 397.2L686 397.8" stroke-width="2.7" fill="none"/>
<path d="M710 274.8L738 275.2" stroke-width="2.7" fill="none"/>
<path d="M257.6 633.8L350 634.6" stroke-width="2.4" fill="none"/>
<path d="M232.3 306.3C232.1 304.3 232.3 301.6 233 300C233.7 298.4 235.1 297.6 236.4 296.4C237.7 295.2 239.4 293.8 241 293C242.6 292.2 244.4 291.6 246.2 291.5C248 291.4 250.1 292.1 252 292.5C253.9 292.9 255.9 294 257.7 294C259.5 294 261.5 293.5 262.6 292.3C263.7 291.1 263.2 288.1 264.3 286.6C265.4 285.1 267.4 283.6 269 283.3C270.6 283 272.5 283.6 274 285C275.5 286.4 276.5 290.2 278 292C279.5 293.8 281.2 295.1 283 296C284.8 296.9 287.3 298 289 297.5C290.7 297 291.4 294 293 293C294.6 292 296.9 291.4 298.7 291.5C300.5 291.6 302.6 292.4 304 293.5C305.4 294.6 305.8 296.8 307 298C308.2 299.2 309.8 299.3 311 300.5C312.2 301.7 313.3 303.2 314 305C314.7 306.8 315.2 308.8 315 311C314.8 313.2 314.2 316.1 313 318C311.8 319.9 310 321.3 308 322.5C306 323.7 303.3 324.9 301 325C298.7 325.1 296.2 324.2 294 323C291.8 321.8 289.7 319.8 288 318C286.3 316.2 285.5 313.2 284 312C282.5 310.8 281 310.3 279 310.5C277 310.7 273.8 311.9 272 313C270.2 314.1 269.2 315.5 268.5 317C267.8 318.5 268.4 320.5 267.5 322C266.6 323.5 264.9 325.2 263 326C261.1 326.8 258.2 327.2 256 327C253.8 326.8 251.5 325.8 250 324.5C248.5 323.2 248.7 320.4 247 319C245.3 317.6 242.1 317.2 240 316C237.9 314.8 235.8 313.6 234.5 312C233.2 310.4 232.6 308.3 232.3 306.3Z" stroke-width="2.2" fill="none"/>
<circle cx="248.3" cy="299.8" r="1.1" fill="#111" stroke="none"/>
<circle cx="273.2" cy="299.6" r="0.8" fill="#111" stroke="none"/>
<circle cx="258.4" cy="309.2" r="0.8" fill="#111" stroke="none"/>
<circle cx="261.3" cy="306.8" r="0.8" fill="#111" stroke="none"/>
<circle cx="254" cy="311.6" r="1.1" fill="#111" stroke="none"/>
<circle cx="253.1" cy="304" r="0.8" fill="#111" stroke="none"/>
<circle cx="253.2" cy="307.7" r="0.9" fill="#111" stroke="none"/>
<circle cx="276.6" cy="303.6" r="1" fill="#111" stroke="none"/>
<circle cx="281.4" cy="300.3" r="1.1" fill="#111" stroke="none"/>
<circle cx="257.4" cy="316.7" r="1" fill="#111" stroke="none"/>
<circle cx="265" cy="300.5" r="1" fill="#111" stroke="none"/>
<circle cx="248.7" cy="306.3" r="1.1" fill="#111" stroke="none"/>
<circle cx="267.9" cy="311" r="0.9" fill="#111" stroke="none"/>
<circle cx="270.3" cy="306.5" r="1.1" fill="#111" stroke="none"/>
<circle cx="261.9" cy="302.3" r="1.1" fill="#111" stroke="none"/>
<circle cx="272.1" cy="302.9" r="1.1" fill="#111" stroke="none"/>
<circle cx="258.9" cy="321.1" r="1" fill="#111" stroke="none"/>
<circle cx="259.7" cy="299.8" r="0.9" fill="#111" stroke="none"/>
<circle cx="264.2" cy="310.5" r="0.8" fill="#111" stroke="none"/>
<circle cx="239.9" cy="299" r="1" fill="#111" stroke="none"/>
<circle cx="252.1" cy="314.1" r="0.8" fill="#111" stroke="none"/>
<circle cx="247.9" cy="310.2" r="0.9" fill="#111" stroke="none"/>
<circle cx="251.3" cy="298.3" r="1" fill="#111" stroke="none"/>
<circle cx="237.4" cy="306.4" r="1.1" fill="#111" stroke="none"/>
<circle cx="264.3" cy="314.6" r="1" fill="#111" stroke="none"/>
<circle cx="268.4" cy="302.4" r="1" fill="#111" stroke="none"/>
<circle cx="262" cy="318.2" r="0.8" fill="#111" stroke="none"/>
<circle cx="263.5" cy="296" r="0.8" fill="#111" stroke="none"/>
<circle cx="241.2" cy="309.3" r="0.9" fill="#111" stroke="none"/>
<circle cx="247.3" cy="303.6" r="1" fill="#111" stroke="none"/>
<circle cx="274.5" cy="306.2" r="0.8" fill="#111" stroke="none"/>
<circle cx="276.1" cy="297.6" r="0.9" fill="#111" stroke="none"/>
<circle cx="258.7" cy="304.9" r="0.8" fill="#111" stroke="none"/>
<circle cx="264.5" cy="307.2" r="1" fill="#111" stroke="none"/>
<circle cx="254.4" cy="317.7" r="0.9" fill="#111" stroke="none"/>
<circle cx="243.6" cy="304" r="0.9" fill="#111" stroke="none"/>
<circle cx="269.4" cy="297.6" r="0.9" fill="#111" stroke="none"/>
<circle cx="279" cy="305.8" r="1" fill="#111" stroke="none"/>
<circle cx="255.9" cy="314.1" r="1.1" fill="#111" stroke="none"/>
<circle cx="259.9" cy="312.8" r="1" fill="#111" stroke="none"/>
<circle cx="245.6" cy="312.6" r="1" fill="#111" stroke="none"/>
<circle cx="245.4" cy="298.4" r="0.9" fill="#111" stroke="none"/>
<circle cx="278.2" cy="300.2" r="1.1" fill="#111" stroke="none"/>
<circle cx="250.5" cy="302" r="0.8" fill="#111" stroke="none"/>
<circle cx="256" cy="302" r="0.9" fill="#111" stroke="none"/>
<circle cx="267.6" cy="307.8" r="0.9" fill="#111" stroke="none"/>
<circle cx="239.2" cy="303.1" r="1" fill="#111" stroke="none"/>
<circle cx="244.6" cy="308.2" r="1" fill="#111" stroke="none"/>
<circle cx="254.5" cy="297.9" r="1.1" fill="#111" stroke="none"/>
<circle cx="248.3" cy="296.5" r="1" fill="#111" stroke="none"/>
<circle cx="300.3" cy="311.2" r="4.2" fill="#111" stroke="none"/>
<circle cx="300.3" cy="311.2" r="7.3" stroke-width="2.2" fill="none"/>
<path d="M292 303C291.3 304 288.3 306.7 288 309C287.7 311.3 288.5 314.8 290 317C291.5 319.2 294.3 321.2 297 322C299.7 322.8 303.5 323 306 322C308.5 321 310.8 318.3 312 316C313.2 313.7 312.8 309.3 313 308" stroke-width="1.8" fill="none"/>
<path d="M281 305.5C281.8 305.4 284.7 304.6 286 305C287.3 305.4 288.5 307.5 289 308" stroke-width="3.3" fill="none"/>
<path d="M251 275C252.5 274.9 257 274.2 260 274.5C263 274.8 266.8 275.7 269 276.8C271.2 277.9 272.1 279.6 273 281C273.9 282.4 274.2 284.3 274.5 285" stroke-width="2.1" fill="none"/>
<path d="M253.6 281C254.8 280.8 258.7 279.9 261 280C263.3 280.1 266.4 281.4 267.5 281.7" stroke-width="2" fill="none"/>
<path d="M277.4 283.3C278.2 283.2 280.6 282.4 282 283C283.4 283.6 284.7 285.3 285.6 286.6C286.5 287.9 287.2 289.4 287.5 291C287.8 292.6 287.2 295.2 287.2 296" stroke-width="2.1" fill="none"/>
<path d="M276 287C276.7 287.2 278.9 287.2 280 288C281.1 288.8 282.1 291.3 282.5 292" stroke-width="2.1" fill="none"/>
<path d="M313 319C313.9 318.5 317.1 318 318.4 316C319.7 314 319.9 309.9 321 307C322.1 304.1 323.5 300.1 325 298.5C326.5 296.9 328.5 296.6 329.8 297.2C331.1 297.8 331.6 300.6 333 302C334.4 303.4 336.1 304.8 338 305.5C339.9 306.2 343.5 306.2 344.6 306.3" stroke-width="2.2" fill="none"/>
<path d="M316 321C316.8 320.5 319.7 319.8 321 318C322.3 316.2 323 312.6 324 310C325 307.4 326 303.7 327 302.5C328 301.3 329 302.2 330 303C331 303.8 332.5 306.3 333 307" stroke-width="1.7" fill="none"/>
<path d="M320 325C320.7 325.8 322.3 328.4 324 330C325.7 331.6 326.9 332.7 330 334.5C333.1 336.3 337.7 338.8 342.7 341C347.7 343.2 354.2 346.2 360 347.7C365.8 349.2 374.8 349.6 377.7 350" stroke-width="2.2" fill="none"/>
<path d="M318.4 324.3L326 324.3" stroke-width="2.4" fill="none"/>
<path d="M318.4 324.3L320.5 330.5" stroke-width="2.4" fill="none"/>
<path d="M421 571C421.5 572.2 422.5 575.9 424 578C425.5 580.1 427.3 582.2 430 583.5C432.7 584.8 438.3 585.6 440 586" stroke-width="2.2" fill="none"/>
<path d="M420.2 570L426.5 571.5" stroke-width="2.2" fill="none"/>
<path d="M420.2 570L419.5 576" stroke-width="2.2" fill="none"/>
<circle cx="264" cy="558" r="1.2" fill="#111" stroke="none"/>
<text x="100" y="242.5" font-size="27" font-weight="bold" textLength="183" lengthAdjust="spacingAndGlyphs" stroke-width="0">Muscle of pump</text>
<text x="512.5" y="145.3" font-size="27" font-weight="normal" textLength="99" lengthAdjust="spacing" stroke-width="0.7">Pharynx</text>
<text x="505" y="323.5" font-size="27" font-weight="normal" textLength="68" lengthAdjust="spacing" stroke-width="0.6">Pump</text>
<text x="381" y="357" font-size="27" font-weight="normal" textLength="187" lengthAdjust="spacing" stroke-width="0.6">Salivary gland</text>
<text x="746.5" y="281.6" font-size="28" font-weight="normal" textLength="68" lengthAdjust="spacing">Setae</text>
<text x="689" y="407.5" font-size="28" font-weight="normal" textLength="110.5" lengthAdjust="spacingAndGlyphs" letter-spacing="1.5">Labrum</text>
<text x="446.5" y="595.5" font-size="28" font-weight="normal" textLength="94" lengthAdjust="spacing">Sheath,</text>
<text x="547.5" y="594.5" font-size="16" font-weight="normal" textLength="8" lengthAdjust="spacingAndGlyphs">=</text>
<text x="563" y="595.5" font-size="28" font-weight="normal" textLength="98" lengthAdjust="spacingAndGlyphs" letter-spacing="1.5">labium</text>
<text x="358.5" y="639" font-size="28" font-weight="normal" textLength="79" lengthAdjust="spacing">Setae,</text>
<text x="442.8" y="637.5" font-size="18" font-weight="normal" textLength="11" lengthAdjust="spacingAndGlyphs">=</text>
<text x="465" y="639" font-size="28" font-weight="normal" textLength="118" lengthAdjust="spacing">Mandible</text>
<text x="598" y="639" font-size="28" font-weight="normal" textLength="45" lengthAdjust="spacing">and</text>
<text x="658" y="639" font-size="28" font-weight="normal" textLength="98" lengthAdjust="spacing">Maxilloe</text>
</g>
</svg>
</body></html>
